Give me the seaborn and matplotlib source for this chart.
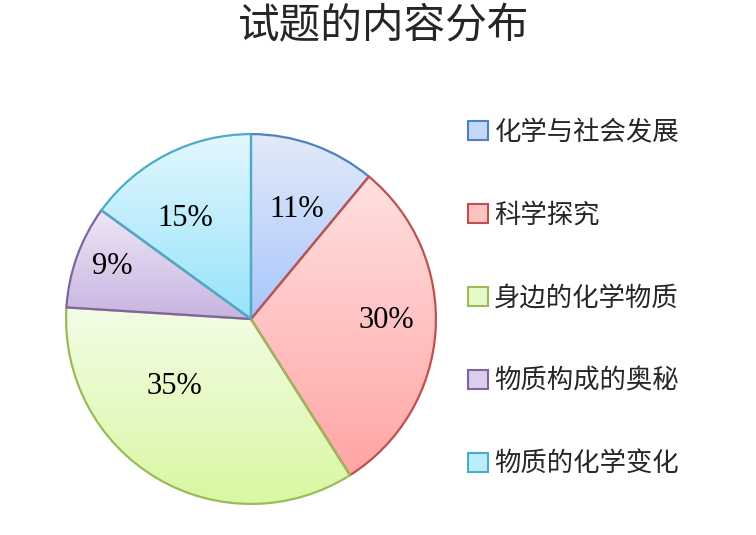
import matplotlib
matplotlib.use("Agg")
import matplotlib.pyplot as plt
import numpy as np
import seaborn as sns
from matplotlib.patches import Patch

title = "试题的内容分布"
categories = ["化学与社会发展", "科学探究", "身边的化学物质", "物质构成的奥秘", "物质的化学变化"]
shares = [11, 30, 35, 9, 15]

edge_colors = ["#4F81BD", "#C0504D", "#9BBB59", "#8064A2", "#4BACC6"]
top_colors = ["#E2EAFB", "#FFE0E0", "#F3FCE6", "#EEE6F6", "#E3F7FE"]
bottom_colors = ["#A9C6FA", "#FFA5A5", "#D8F8A2", "#C8B4E0", "#96E3FA"]
# where the percent labels sit (fraction of radius, angle nudge in degrees)
label_radius = [0.64, 0.73, 0.55, 0.80, 0.65]
label_nudge = [-3, 3, -18, -1, 6]

sns.set_theme(style="white")
plt.rcParams["font.family"] = ["Noto Sans CJK SC", "DejaVu Sans"]

fig = plt.figure(figsize=(7.56, 5.35), dpi=100)
ax = fig.add_axes([0.080, 0.0477, 0.504, 0.712])

wedges, _ = ax.pie(shares, startangle=90, counterclock=False, radius=1,
                   colors=top_colors,
                   wedgeprops=dict(edgecolor="none", linewidth=1.6))

# vertical gradient per slice, clipped to the wedge
grad = np.linspace(0, 1, 256).reshape(-1, 1)
for w, top, bot, ec in zip(wedges, top_colors, bottom_colors, edge_colors):
    ext = w.get_path().get_extents()
    cmap = sns.blend_palette([top, bot], n_colors=256, as_cmap=True)
    im = ax.imshow(grad, cmap=cmap, aspect="auto", origin="upper",
                   extent=[ext.x0, ext.x1, ext.y0, ext.y1], zorder=0.5)
    im.set_clip_path(w)
    w.set_facecolor("none")
    w.set_edgecolor(ec)
    w.set_zorder(2)

for w, val, r, nud in zip(wedges, shares, label_radius, label_nudge):
    ang = np.deg2rad((w.theta1 + w.theta2) / 2 + nud)
    ax.text(r * np.cos(ang), r * np.sin(ang), f"{val}%", ha="center", va="center",
            fontsize=22, family=["Liberation Serif"], color="black", zorder=3)

ax.set_xlim(-1.03, 1.03)
ax.set_ylim(-1.03, 1.03)
ax.set_aspect("equal")
ax.axis("off")

fig.text(0.508, 0.950, title, ha="center", va="center", fontsize=30)

handles = [Patch(facecolor=sns.blend_palette([t, b], 3)[1], edgecolor=ec, linewidth=1.5)
           for t, b, ec in zip(top_colors, bottom_colors, edge_colors)]
fig.legend(handles, categories, loc="upper left", bbox_to_anchor=(468 / 756, 1 - 119 / 535),
           frameon=False, fontsize=19, handlelength=0.75, handleheight=0.75,
           handletextpad=0.25, labelspacing=2.12, borderpad=0, borderaxespad=0)

fig.savefig("out.png", dpi=100)
